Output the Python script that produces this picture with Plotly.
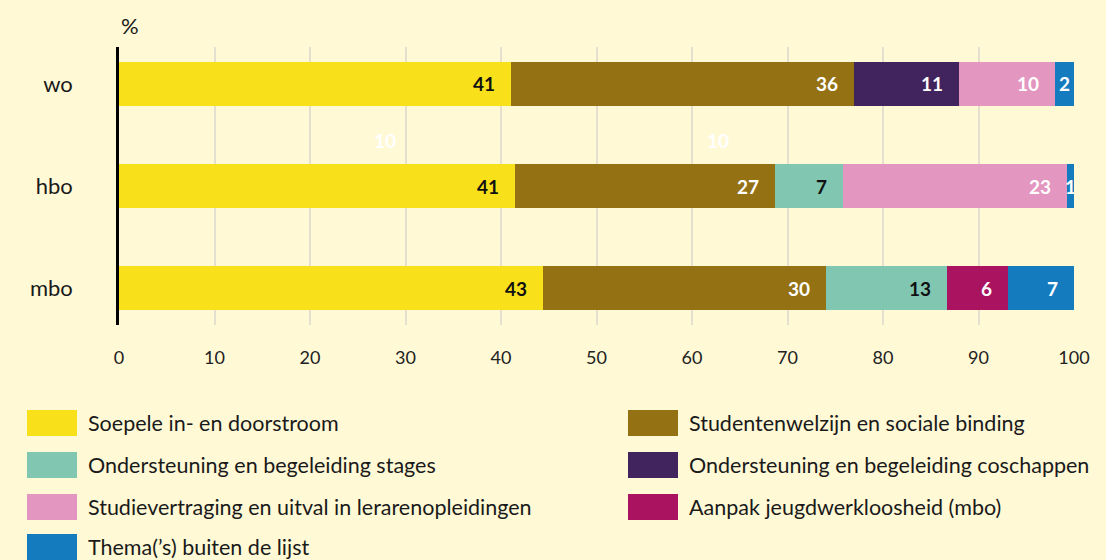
import plotly.graph_objects as go

categories = ["wo", "hbo", "mbo"]
series_names = [
    "Soepele in- en doorstroom",
    "Studentenwelzijn en sociale binding",
    "Ondersteuning en begeleiding stages",
    "Ondersteuning en begeleiding coschappen",
    "Studievertraging en uitval in lerarenopleidingen",
    "Aanpak jeugdwerkloosheid (mbo)",
    "Thema('s) buiten de lijst",
]
legend_names = [
    "Soepele in- en doorstroom",
    "Studentenwelzijn en sociale binding",
    "Ondersteuning en begeleiding stages",
    "Ondersteuning en begeleiding coschappen",
    "Studievertraging en uitval in lerarenopleidingen",
    "Aanpak jeugdwerkloosheid (mbo)",
    "Thema(\u2019s) buiten de lijst",
]
# bar lengths (wo, hbo, mbo)
values = [
    [41.0, 41.5, 44.4],
    [36.0, 27.2, 29.6],
    [0.0, 7.1, 12.7],
    [11.0, 0.0, 0.0],
    [10.0, 23.5, 0.0],
    [0.0, 0.0, 6.4],
    [2.0, 0.7, 6.9],
]
# printed labels
labels = [
    ["41", "41", "43"],
    ["36", "27", "30"],
    ["", "7", "13"],
    ["11", "", ""],
    ["10", "23", ""],
    ["", "", "6"],
    ["2", "1", "7"],
]
colors = ["#F8E01B", "#947113", "#80C6B1", "#41245D", "#E396BF", "#A9135F", "#157BBF"]
label_colors = ["#111111", "#FFFFFF", "#111111", "#FFFFFF", "#FFFFFF", "#FFFFFF", "#FFFFFF"]
x_ticks = [0, 10, 20, 30, 40, 50, 60, 70, 80, 90, 100]
stray_labels = [("10", 27.9), ("10", 62.7)]

BG = "#FFF9D6"
FONT = "Lato"

fig = go.Figure()
for name, vals, col in zip(series_names, values, colors):
    fig.add_trace(go.Bar(
        y=categories, x=vals, name=name, orientation="h",
        marker=dict(color=col, line=dict(width=0)), width=0.44,
        hoverinfo="x+name",
    ))

# segment labels at inner end of each segment
cum = [0.0] * len(categories)
px_per_unit = 955 / 100
for vals, labs, tcol in zip(values, labels, label_colors):
    for i, (v, lab) in enumerate(zip(vals, labs)):
        end = cum[i] + v
        if lab:
            small = v * px_per_unit < 26
            xe = min(end, 99.999)
            fig.add_annotation(
                x=min((cum[i] + end) / 2, 99.999) if small else xe, y=categories[i],
                xref="x", yref="y", text=f"<b>{lab}</b>", showarrow=False,
                xanchor="center" if small else "right",
                xshift=0 if small else -14,
                font=dict(family=FONT, size=19, color=tcol),
            )
        cum[i] = end

for txt, xv in stray_labels:
    fig.add_annotation(x=xv, y=0.55, xref="x", yref="y", text=f"<b>{txt}</b>",
                       showarrow=False, font=dict(family=FONT, size=19, color="#FFFFFF"))

fig.add_annotation(x=0, y=1, xref="paper", yref="paper", text="%", showarrow=False,
                   xanchor="left", yanchor="bottom", xshift=0, yshift=6,
                   font=dict(family=FONT, size=22, color="#1a1a1a"))

# manual legend (two columns, row-wise)
def px_x(p):
    return (p - 119) / 955

def px_y(p):
    return (325 - p) / 278

row_y = [423, 465, 507, 547]
col_x = [27, 628]
for k, (nm, col) in enumerate(zip(legend_names, colors)):
    r, c = divmod(k, 2)
    yc = row_y[r]
    x0 = col_x[c]
    fig.add_shape(type="rect", xref="paper", yref="paper",
                  x0=px_x(x0), x1=px_x(x0 + 50), y0=px_y(yc + 13), y1=px_y(yc - 13),
                  fillcolor=col, line=dict(width=0))
    fig.add_annotation(x=px_x(x0 + 59), y=px_y(yc), xref="paper", yref="paper",
                       text=nm, showarrow=False, xanchor="left", yanchor="middle",
                       font=dict(family=FONT, size=21.5, color="#1a1a1a"))

fig.update_layout(
    width=1106, height=560,
    barmode="stack",
    showlegend=False,
    paper_bgcolor=BG, plot_bgcolor=BG,
    margin=dict(l=119, r=32, t=47, b=235),
    font=dict(family=FONT, size=17, color="#1a1a1a"),
    xaxis=dict(range=[0, 100], tickvals=x_ticks, showgrid=True, gridcolor="#E4E0CF",
               gridwidth=1.5, zeroline=False, showline=False, ticks="",
               ticklabelstandoff=20, tickfont=dict(family=FONT, size=18, color="#222222"),
               fixedrange=True),
    yaxis=dict(categoryorder="array", categoryarray=categories, autorange=False,
               range=[2.3625, -0.3625], showgrid=False, zeroline=False,
               showline=True, linecolor="#000000", linewidth=2.5, ticks="",
               ticklabelstandoff=39, tickfont=dict(family=FONT, size=22, color="#1a1a1a"),
               fixedrange=True),
)

fig.write_html("out.html", config={"displayModeBar": False},
               post_script="document.body.style.margin='0';document.body.style.background='" + BG + "';")
